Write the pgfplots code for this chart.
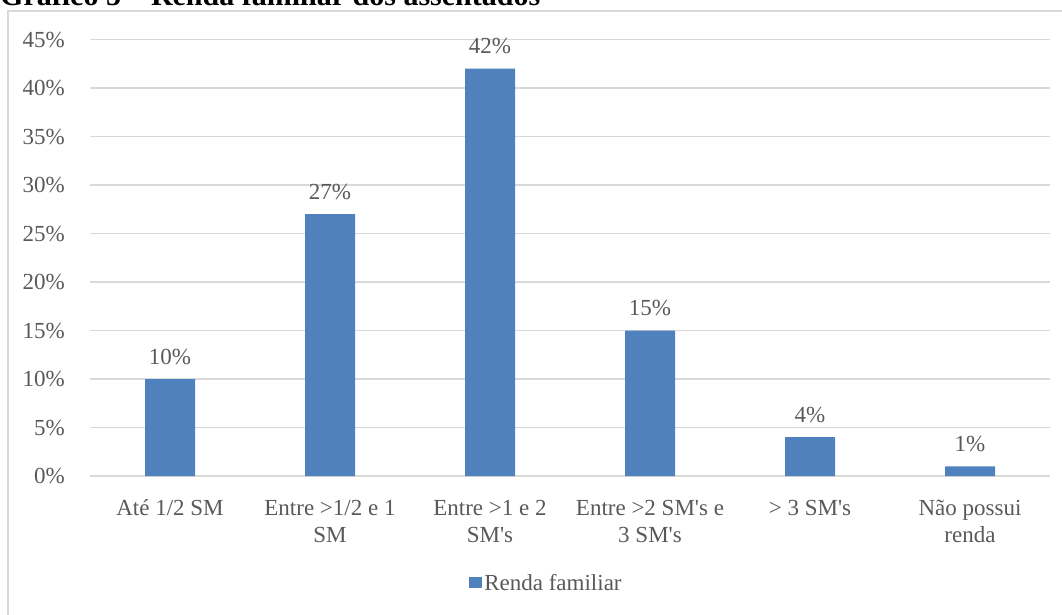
\documentclass[border=0pt]{standalone}
\usepackage{pgfplots}
\pgfplotsset{compat=1.18}
\usepackage{fontspec}
\setmainfont{Liberation Serif}
\definecolor{barblue}{HTML}{4F81BD}
\definecolor{txtgray}{HTML}{595959}
\definecolor{gridgray}{HTML}{D9D9D9}
% straight apostrophe, drawn as a glyph so that no TeX mapping curls it
\newcommand\apos{\XeTeXglyph\XeTeXglyphindex "quotesingle"\relax}
\newcommand\lblfont{\fontsize{23}{27}\selectfont}

\begin{document}
\begin{tikzpicture}[x=1pt,y=1pt]
\useasboundingbox (0,0) rectangle (1062,614);
% chart frame
\draw[gridgray, line width=1.3pt] (8,-20) -- (8,603) -- (1090,603);
% caption
\node[anchor=base west, inner sep=0pt, font=\fontsize{30}{36}\selectfont\bfseries] at (0,608)
  {Gráfico 5 – Renda familiar dos assentados};
\begin{axis}[
  at={(90pt,138pt)}, anchor=south west,
  scale only axis, width=960pt, height=436.5pt,
  xmin=-0.5, xmax=5.5, ymin=0, ymax=45,
  ybar, bar width=50pt,
  clip=false,
  axis line style={draw=none},
  major tick length=0pt,
  ymajorgrids, major grid style={gridgray, line width=1.4pt},
  ytick={0,5,...,45},
  yticklabel={\pgfmathprintnumber{\tick}\%},
  /pgf/number format/assume math mode=true,
  xtick={0,...,5},
  % every category label has two lines, so that all share the same baselines
  xticklabels={{Até 1/2 SM\\\mbox{}},{Entre >1/2 e 1\\SM},{Entre >1 e 2\\SM\apos s},{Entre >2 SM\apos s e\\3 SM\apos s},{> 3 SM\apos s\\\mbox{}},{Não possui\\renda}},
  ticklabel style={font=\lblfont, text=txtgray},
  yticklabel style={anchor=east, inner sep=0pt, xshift=-25pt},
  xticklabel style={anchor=base, align=center, inner sep=0pt, yshift=-66pt},
  nodes near coords={\pgfmathprintnumber{\pgfplotspointmeta}\%},
  nodes near coords style={anchor=base, inner sep=0pt, yshift=15pt, font=\lblfont, text=txtgray},
  legend style={at={(0.4755,-0.245)}, anchor=center, draw=none, fill=none,
    font=\lblfont, text=txtgray, inner sep=0pt, nodes={inner sep=2.5pt}},
  legend image code/.code={\fill[barblue] (0pt,-5.5pt) rectangle (13pt,5.5pt);},
]
\addplot[fill=barblue, draw=none] coordinates {(0,10) (1,27) (2,42) (3,15) (4,4) (5,1)};
\addlegendentry{Renda familiar}
\end{axis}
\end{tikzpicture}
\end{document}
